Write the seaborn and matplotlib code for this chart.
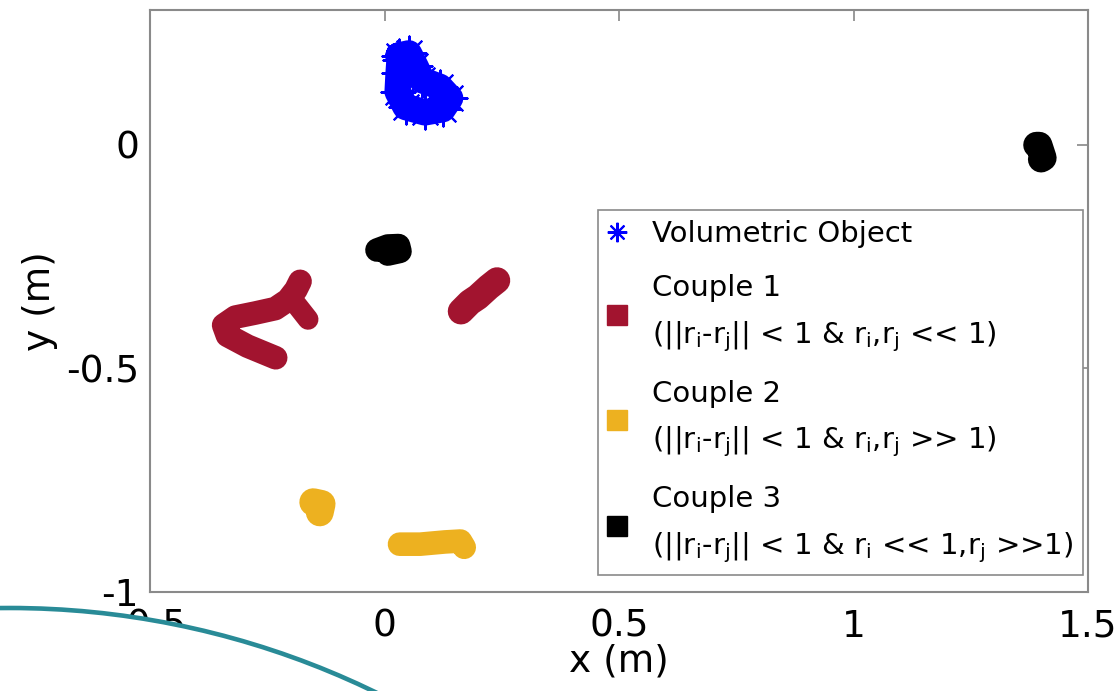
import numpy as np
import pandas as pd
import matplotlib
matplotlib.use("Agg")
import matplotlib.pyplot as plt
import seaborn as sns
from matplotlib.lines import Line2D
from matplotlib.patches import Ellipse

# ---------------- data ----------------
# Volumetric object trajectory (blue asterisks)
vol_x = [0.030, 0.052, 0.066, 0.080, 0.118, 0.140, 0.124, 0.086, 0.045, 0.028, 0.030, 0.032]
vol_y = [0.200, 0.205, 0.176, 0.145, 0.130, 0.105, 0.080, 0.073, 0.085, 0.119, 0.160, 0.190]

# Couple 1 (two agents)
c1a_x = [-0.232, -0.292, -0.335, -0.343, -0.318, -0.276, -0.233, -0.206, -0.189, -0.180]
c1a_y = [-0.476, -0.450, -0.426, -0.403, -0.385, -0.376, -0.366, -0.347, -0.324, -0.305]
c1b_x = [-0.187, -0.163]
c1b_y = [-0.358, -0.390]
c1c_x = [0.163, 0.182, 0.199, 0.222, 0.240]
c1c_y = [-0.372, -0.352, -0.340, -0.318, -0.303]

# Couple 2 (two agents)
c2a_x = [-0.152, -0.134, -0.138]
c2a_y = [-0.799, -0.803, -0.822]
c2b_x = [0.032, 0.076, 0.129, 0.162, 0.170]
c2b_y = [-0.893, -0.893, -0.888, -0.886, -0.900]

# Couple 3 (two agents)
c3a_x = [-0.016, 0.007, 0.030, 0.033, 0.007]
c3a_y = [-0.235, -0.226, -0.225, -0.238, -0.244]
c3b_x = [1.390, 1.396, 1.405, 1.400]
c3b_y = [0.000, 0.000, -0.029, -0.032]

x_ticks = [-0.5, 0, 0.5, 1, 1.5]
x_tick_labels = ["-0.5", "0", "0.5", "1", "1.5"]
y_ticks = [-1, -0.5, 0]
y_tick_labels = ["-1", "-0.5", "0"]

legend_labels = [
    "Volumetric Object",
    "Couple 1\n(||r$_\\mathrm{i}$-r$_\\mathrm{j}$|| < 1 & r$_\\mathrm{i}$,r$_\\mathrm{j}$ << 1)",
    "Couple 2\n(||r$_\\mathrm{i}$-r$_\\mathrm{j}$|| < 1 & r$_\\mathrm{i}$,r$_\\mathrm{j}$ >> 1)",
    "Couple 3\n(||r$_\\mathrm{i}$-r$_\\mathrm{j}$|| < 1 & r$_\\mathrm{i}$ << 1,r$_\\mathrm{j}$ >>1)",
]

BLUE = "#0000ff"
RED = "#a2142f"
YEL = "#edb120"
BLK = "#000000"

# ---------------- figure ----------------
sns.set_theme(style="white")
plt.rcParams["font.family"] = ["DejaVu Sans"]
plt.rcParams["mathtext.fontset"] = "dejavusans"
plt.rcParams["text.color"] = "black"

fig = plt.figure(figsize=(11.18, 6.91), dpi=100)
ax = fig.add_axes([150 / 1118, 1 - 592 / 691, (1088 - 150) / 1118, (592 - 10) / 691])

def stroke(xs, ys, color, lw=17):
    df = pd.DataFrame({"x": xs, "y": ys, "o": range(len(xs))})
    sns.lineplot(data=df, x="x", y="y", sort=False, estimator=None, color=color,
                 linewidth=lw, solid_capstyle="round", solid_joinstyle="round",
                 ax=ax, legend=False)

# Volumetric object: thick blue path + asterisks
stroke(vol_x + [vol_x[0]], vol_y + [vol_y[0]], BLUE, lw=19)
vdf = pd.DataFrame({"x": vol_x, "y": vol_y})
sns.scatterplot(data=vdf, x="x", y="y", marker=(8, 2, 0), s=600, color=BLUE,
                linewidth=1.5, edgecolor=BLUE, ax=ax, legend=False)

stroke(c1a_x, c1a_y, RED, lw=17)
stroke(c1b_x, c1b_y, RED, lw=15)
stroke(c1c_x, c1c_y, RED, lw=19)
stroke(c2a_x, c2a_y, YEL, lw=20)
stroke(c2b_x, c2b_y, YEL, lw=17)
stroke(c3a_x, c3a_y, BLK, lw=17)
stroke(c3b_x, c3b_y, BLK, lw=19)

ax.set_xlim(-0.5, 1.5)
ax.set_ylim(-1, 0.302)
ax.set_xticks(x_ticks)
ax.set_xticklabels(x_tick_labels)
ax.set_yticks(y_ticks)
ax.set_yticklabels(y_tick_labels)
ax.tick_params(direction="in", top=True, right=True, length=8, width=1.2,
               color="#888888", labelsize=27, labelcolor="black")
ax.tick_params(axis="x", pad=12)
ax.tick_params(axis="y", pad=8)
for s in ax.spines.values():
    s.set_color("#8a8a8a")
    s.set_linewidth(1.5)
    s.set_visible(True)

ax.set_xlabel("x (m)", fontsize=27, color="black")
ax.set_ylabel("y (m)", fontsize=27, color="black")
ax.xaxis.set_label_coords(0.5, -0.088)
ax.yaxis.set_label_coords(-0.098, 0.5)

handles = [
    Line2D([], [], linestyle="none", marker=(8, 2, 0), markersize=14,
           markeredgewidth=1.5, color=BLUE),
    Line2D([], [], linestyle="none", marker="s", markersize=14, color=RED),
    Line2D([], [], linestyle="none", marker="s", markersize=14, color=YEL),
    Line2D([], [], linestyle="none", marker="s", markersize=14, color=BLK),
]
leg = ax.legend(handles, legend_labels, loc="upper left",
                bbox_to_anchor=(598 / 1118, 1 - 210 / 691),
                bbox_transform=fig.transFigure, borderaxespad=0,
                fontsize=21, frameon=True, fancybox=False, framealpha=1,
                edgecolor="#8a8a8a", handlelength=0.6, handletextpad=0.9,
                borderpad=0.35, labelspacing=0.9, labelcolor="black")
leg.get_frame().set_linewidth(1.2)
for t in leg.get_texts():
    t.set_linespacing(1.7)

# decorative teal arc overlay (bottom-left)
arc = Ellipse((10 / 1118, -752 / 691), width=2 * 835 / 1118, height=2 * 835 / 691,
              transform=fig.transFigure, facecolor="white", edgecolor="#298b97",
              linewidth=3.3, zorder=20)
fig.add_artist(arc)

fig.savefig("out.png", dpi=100)
